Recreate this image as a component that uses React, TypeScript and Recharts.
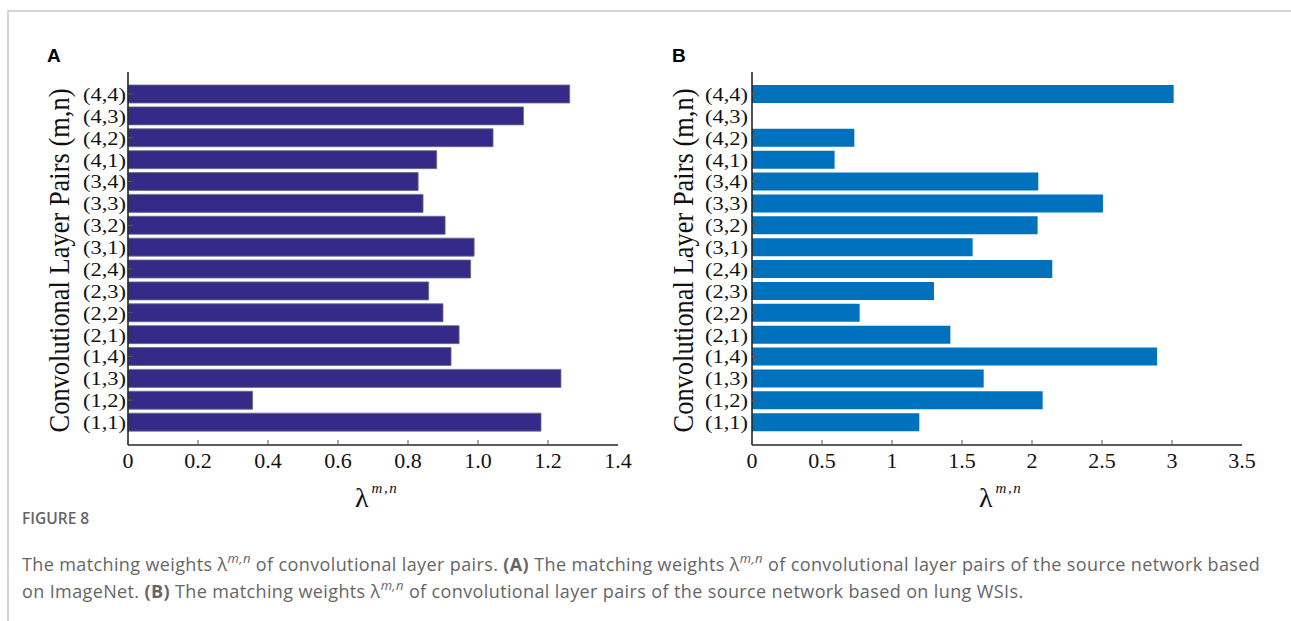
import React from "react";
import { BarChart, Bar, XAxis, YAxis, Label } from "recharts";

// layer pairs, top to bottom as drawn
const pairs = [
	"(4,4)", "(4,3)", "(4,2)", "(4,1)",
	"(3,4)", "(3,3)", "(3,2)", "(3,1)",
	"(2,4)", "(2,3)", "(2,2)", "(2,1)",
	"(1,4)", "(1,3)", "(1,2)", "(1,1)",
];
const weightsImageNet = [1.262, 1.13, 1.043, 0.882, 0.829, 0.843, 0.906, 0.989, 0.979, 0.859, 0.9, 0.946, 0.923, 1.237, 0.356, 1.18];
const weightsLungWSI = [3.012, 0, 0.731, 0.59, 2.045, 2.507, 2.04, 1.576, 2.145, 1.3, 0.769, 1.417, 2.893, 1.655, 2.076, 1.195];
const ticksA = [0, 0.2, 0.4, 0.6, 0.8, 1.0, 1.2, 1.4];
const ticksB = [0, 0.5, 1, 1.5, 2, 2.5, 3, 3.5];
const yTitle = "Convolutional Layer Pairs (m,n)";

const SERIF = "'Liberation Serif', 'Times New Roman', serif";
const FRAME = { stroke: "#262626", strokeWidth: 1.6 };
const TICK = "#555";

interface PanelProps {
	values: number[];
	ticks: number[];
	fill: string;
	stroke: string;
	fmt: (v: number) => string;
	left: number;
	marginLeft: number;
	marginRight: number;
	labelGap: number;
}

const Panel = ({ values, ticks, fill, stroke, fmt, left, marginLeft, marginRight, labelGap }: PanelProps) => {
	const data = pairs.map((p, i) => ({ pair: p, value: values[i] }));
	const max = ticks[ticks.length - 1];
	const pad = { top: 11, bottom: 12 };

	const leftTick = (p: any) => (
		<g>
			{p.index % 2 === 0 && <line x1={p.x + labelGap} x2={p.x + labelGap + 5} y1={p.y} y2={p.y} stroke={TICK} />}
			<text
				x={p.x}
				y={p.y}
				dy={7}
				textAnchor="end"
				fontFamily={SERIF}
				fontSize={19.5}
				textLength={43}
				lengthAdjust="spacingAndGlyphs"
				fill="#111">
				{p.payload.value}
			</text>
		</g>
	);
	const rightTick = (p: any) =>
		p.index % 2 === 0 ? <line x1={p.x - 6} x2={p.x} y1={p.y} y2={p.y} stroke={TICK} /> : <g />;
	const bottomTick = (p: any) => (
		<g>
			{p.index > 0 && p.index < ticks.length - 1 && <line x1={p.x} x2={p.x} y1={p.y} y2={p.y - 5} stroke={TICK} />}
			<text x={p.x} y={p.y + 23} textAnchor="middle" fontFamily={SERIF} fontSize={22} fill="#111">
				{fmt(p.payload.value)}
			</text>
		</g>
	);
	const topTick = (p: any) =>
		p.index > 0 && p.index < ticks.length - 1 ? <line x1={p.x} x2={p.x} y1={p.y} y2={p.y + 5} stroke={TICK} /> : <g />;

	return (
		<div style={{ position: "absolute", left, top: 0 }}>
			<BarChart
				width={640}
				height={520}
				data={data}
				layout="vertical"
				margin={{ top: 72, right: marginRight, bottom: 25, left: marginLeft }}>
				<XAxis
					xAxisId="bottom"
					type="number"
					domain={[0, max]}
					ticks={ticks}
					interval={0}
					height={50}
					tickSize={0}
					tickMargin={0}
					axisLine={FRAME}
					tickLine={false}
					tick={bottomTick}>
					<Label
						content={(lp: any) => {
							const vb = lp.viewBox || {};
							const cx = vb.x + vb.width / 2;
							return (
								<text x={cx - 18} y={vb.y + 62} fontFamily={SERIF} fill="#111">
									<tspan fontSize={28}>λ</tspan>
									<tspan fontSize={15} fontStyle="italic" dy={-14} dx={3} letterSpacing={1.5}>
										m,n
									</tspan>
								</text>
							);
						}}
					/>
				</XAxis>
				<XAxis
					xAxisId="top"
					orientation="top"
					type="number"
					domain={[0, max]}
					ticks={ticks}
					interval={0}
					height={0}
					tickSize={0}
					tickMargin={0}
					axisLine={FRAME}
					tickLine={false}
					tick={topTick}
				/>
				<YAxis
					yAxisId="left"
					type="category"
					dataKey="pair"
					width={98}
					interval={0}
					padding={pad}
					tickSize={0}
					tickMargin={labelGap}
					axisLine={FRAME}
					tickLine={false}
					tick={leftTick}>
					<Label
						content={(lp: any) => {
							const vb = lp.viewBox || {};
							const cx = vb.x + 28;
							const cy = vb.y + vb.height / 2 + 2;
							return (
								<text
									x={cx}
									y={cy}
									transform={`rotate(-90 ${cx} ${cy})`}
									textAnchor="middle"
									dominantBaseline="central"
									fontFamily={SERIF}
									fontSize={30}
									textLength={344}
									lengthAdjust="spacingAndGlyphs"
									fill="#111">
									{yTitle}
								</text>
							);
						}}
					/>
				</YAxis>
				<YAxis
					yAxisId="right"
					orientation="right"
					type="category"
					dataKey="pair"
					width={0}
					interval={0}
					padding={pad}
					tickSize={0}
					tickMargin={0}
					axisLine={FRAME}
					tickLine={false}
					tick={rightTick}
				/>
				<Bar
					dataKey="value"
					xAxisId="bottom"
					yAxisId="left"
					barSize={18}
					fill={fill}
					stroke={stroke}
					strokeWidth={0.8}
					isAnimationActive={false}
				/>
			</BarChart>
		</div>
	);
};

const sup = (
	<span style={{ fontSize: 13, position: "relative", top: -8, fontStyle: "italic" }}>m,n</span>
);
const lineStyle: React.CSSProperties = { fontSize: 18, letterSpacing: 0.38, lineHeight: "25px", whiteSpace: "nowrap" };

const App = () => {
	return (
		<div style={{ position: "absolute", left: 0, top: 0, width: 1291, height: 621, background: "#fff", overflow: "hidden" }}>
			<div
				style={{
					position: "absolute",
					left: 7,
					top: 10,
					width: 1300,
					height: 640,
					borderTop: "2px solid #d5d5d5",
					borderLeft: "2px solid #d5d5d5",
				}}
			/>
			<Panel
				values={weightsImageNet}
				ticks={ticksA}
				fill="#352a87"
				stroke="#6d6d86"
				fmt={(v) => (v === 0 ? "0" : v.toFixed(1))}
				left={0}
				marginLeft={30}
				marginRight={22}
				labelGap={2}
			/>
			<Panel
				values={weightsLungWSI}
				ticks={ticksB}
				fill="#0072bd"
				stroke="none"
				fmt={(v) => String(v)}
				left={640}
				marginLeft={14}
				marginRight={38}
				labelGap={4}
			/>
			<div style={{ position: "absolute", left: 47, top: 45, fontFamily: "'Liberation Sans', Arial, sans-serif", fontWeight: 700, fontSize: 19 }}>
				A
			</div>
			<div style={{ position: "absolute", left: 672, top: 45, fontFamily: "'Liberation Sans', Arial, sans-serif", fontWeight: 700, fontSize: 19 }}>
				B
			</div>
			<div style={{ position: "absolute", left: 22, top: 508, width: 1260, fontFamily: "'Open Sans', sans-serif", color: "#666" }}>
				<div style={{ fontSize: 15.5, fontWeight: 600, lineHeight: "20px" }}>FIGURE 8</div>
				<div style={{ ...lineStyle, marginTop: 24 }}>
					The matching weights λ{sup} of convolutional layer pairs. <b>(A)</b> The matching weights λ{sup} of
					convolutional layer pairs of the source network based
				</div>
				<div style={lineStyle}>
					on ImageNet. <b>(B)</b> The matching weights λ{sup} of convolutional layer pairs of the source network based on
					lung WSIs.
				</div>
			</div>
		</div>
	);
};

export default App;
